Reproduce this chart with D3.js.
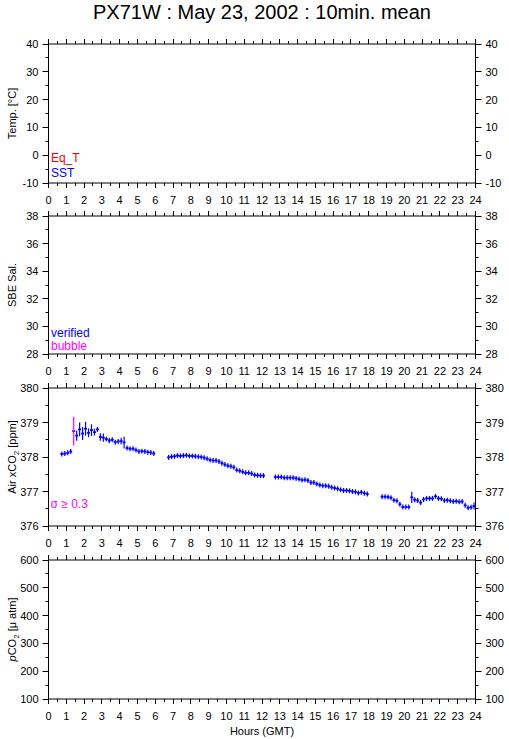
<!DOCTYPE html>
<html lang="en">
<head>
<meta charset="UTF-8">
<title>PX71W : May 23, 2002 : 10min. mean</title>
<style>
  body { margin: 0; background: #fff; }
  svg { display: block; }
  text { font-family: "Liberation Sans", Arial, Helvetica, sans-serif; }
</style>
</head>
<body>
<div id="chart"></div>
<script src="https://cdn.jsdelivr.net/npm/d3@7"></script>
<script>
// ---- data ----
const hourTicks = [0,1,2,3,4,5,6,7,8,9,10,11,12,13,14,15,16,17,18,19,20,21,22,23,24];
const tempTicks = [-10, 0, 10, 20, 30, 40];
const salTicks = [28, 30, 32, 34, 36, 38];
const airTicks = [376, 377, 378, 379, 380];
const pco2Ticks = [100, 200, 300, 400, 500, 600];

// Air xCO2, 10 minute means (start time of interval), ppm, and std dev
const airTime = [
  "00:40","00:50","01:00","01:10","01:20","01:30","01:40","01:50","02:00","02:10",
  "02:20","02:30","02:40","02:50","03:00","03:10","03:20","03:30","03:40","03:50",
  "04:00","04:10","04:20","04:30","04:40","04:50","05:00","05:10","05:20","05:30",
  "05:40","05:50",
  "06:40","06:50","07:00","07:10","07:20","07:30","07:40","07:50","08:00","08:10",
  "08:20","08:30","08:40","08:50","09:00","09:10","09:20","09:30","09:40","09:50",
  "10:00","10:10","10:20","10:30","10:40","10:50","11:00","11:10","11:20","11:30",
  "11:40","11:50","12:00",
  "12:40","12:50","13:00","13:10","13:20","13:30","13:40","13:50","14:00","14:10",
  "14:20","14:30","14:40","14:50","15:00","15:10","15:20","15:30","15:40","15:50",
  "16:00","16:10","16:20","16:30","16:40","16:50","17:00","17:10","17:20","17:30",
  "17:40","17:50",
  "18:40","18:50","19:00","19:10","19:20","19:30","19:40","19:50","20:00","20:10",
  "20:20","20:30","20:40","20:50","21:00","21:10","21:20","21:30","21:40","21:50",
  "22:00","22:10","22:20","22:30","22:40","22:50","23:00","23:10","23:20","23:30",
  "23:40","23:50"
];
const airMean = [
  378.09,378.10,378.12,378.16,378.75,378.62,378.80,378.68,378.82,378.70,
  378.78,378.72,378.80,378.58,378.56,378.52,378.48,378.50,378.43,378.45,
  378.46,378.42,378.26,378.24,378.24,378.20,378.16,378.17,378.16,378.14,
  378.13,378.10,
  377.99,378.01,378.02,378.04,378.03,378.04,378.05,378.03,378.03,378.02,
  378.01,378.00,377.98,377.95,377.91,377.90,377.90,377.87,377.82,377.78,
  377.75,377.73,377.70,377.62,377.60,377.57,377.54,377.54,377.52,377.48,
  377.47,377.46,377.46,
  377.42,377.42,377.42,377.40,377.40,377.40,377.40,377.38,377.36,377.33,
  377.34,377.32,377.26,377.26,377.22,377.19,377.17,377.17,377.15,377.12,
  377.10,377.08,377.05,377.03,377.03,377.02,377.00,376.99,376.96,376.98,
  376.95,376.93,
  376.85,376.85,376.84,376.82,376.75,376.73,376.63,376.55,376.55,376.55,
  376.83,376.76,376.74,376.68,376.77,376.80,376.80,376.80,376.86,376.80,
  376.79,376.74,376.75,376.73,376.71,376.72,376.70,376.71,376.60,376.53,
  376.54,376.58
];
const airSd = [
  0.02,0.02,0.03,0.03,0.42,0.15,0.20,0.19,0.20,0.13,
  0.17,0.10,0.07,0.11,0.12,0.06,0.08,0.05,0.06,0.07,
  0.10,0.17,0.03,0.02,0.03,0.02,0.02,0.02,0.03,0.02,
  0.02,0.02,
  0.02,0.02,0.02,0.03,0.02,0.02,0.03,0.02,0.02,0.02,
  0.02,0.02,0.02,0.02,0.02,0.02,0.02,0.02,0.04,0.03,
  0.03,0.03,0.04,0.04,0.03,0.02,0.02,0.03,0.02,0.03,
  0.02,0.02,0.02,
  0.02,0.03,0.02,0.02,0.02,0.02,0.02,0.02,0.03,0.02,
  0.03,0.02,0.03,0.03,0.02,0.02,0.02,0.02,0.02,0.02,
  0.03,0.02,0.02,0.02,0.02,0.02,0.02,0.02,0.03,0.03,
  0.03,0.02,
  0.02,0.02,0.02,0.02,0.03,0.03,0.04,0.02,0.02,0.02,
  0.16,0.05,0.04,0.02,0.03,0.04,0.04,0.03,0.02,0.02,
  0.02,0.02,0.03,0.02,0.03,0.02,0.02,0.02,0.03,0.02,
  0.02,0.10
];

// ---- layout ----
const W = 509, H = 739;
const left = 48.5, right = 475.5;
const svg = d3.select("#chart").append("svg").attr("width", W).attr("height", H);

const x = d3.scaleLinear().domain([0, 24]).range([left, right]);

svg.append("text")
  .attr("x", (left + right) / 2).attr("y", 18.5)
  .attr("text-anchor", "middle").attr("font-size", 20)
  .text("PX71W : May 23, 2002 : 10min. mean");

function panel(top, bottom, ticks, minorStep, label) {
  const y = d3.scaleLinear().domain([ticks[0], ticks[ticks.length - 1]]).range([bottom, top]);
  const g = svg.append("g");
  const minor = d3.range(ticks[0], ticks[ticks.length - 1] + 1e-9, minorStep);
  const xMinor = d3.range(0, 24.01, 0.5);

  // frame
  g.append("rect").attr("x", left).attr("y", top)
    .attr("width", right - left).attr("height", bottom - top)
    .attr("fill", "none").attr("stroke", "#000");

  // x ticks top/bottom (outward)
  xMinor.forEach(h => {
    const len = Number.isInteger(h) ? 5 : 3;
    const xx = Math.round(x(h) - 0.5) + 0.5;
    g.append("line").attr("x1", xx).attr("x2", xx).attr("y1", top).attr("y2", top - len).attr("stroke", "#000");
    g.append("line").attr("x1", xx).attr("x2", xx).attr("y1", bottom).attr("y2", bottom + len).attr("stroke", "#000");
  });
  g.selectAll(".xl").data(hourTicks).enter().append("text")
    .attr("x", d => x(d)).attr("y", bottom + 20.5)
    .attr("text-anchor", "middle").attr("font-size", 11)
    .text(d => d);

  // y ticks left/right (outward)
  minor.forEach(v => {
    const major = ticks.some(t => Math.abs(t - v) < 1e-9);
    const len = major ? 6 : 3;
    const yy = Math.round(y(v) - 0.5) + 0.5;
    g.append("line").attr("x1", left).attr("x2", left - len).attr("y1", yy).attr("y2", yy).attr("stroke", "#000");
    g.append("line").attr("x1", right).attr("x2", right + len).attr("y1", yy).attr("y2", yy).attr("stroke", "#000");
  });
  ticks.forEach(v => {
    g.append("text").attr("x", left - 10).attr("y", y(v) + 4)
      .attr("text-anchor", "end").attr("font-size", 11).text(v);
    g.append("text").attr("x", right + 10).attr("y", y(v) + 4)
      .attr("text-anchor", "start").attr("font-size", 11).text(v);
  });

  // y label
  const lab = g.append("text")
    .attr("transform", `translate(16,${(top + bottom) / 2}) rotate(-90)`)
    .attr("text-anchor", "middle").attr("font-size", 11);
  label(lab);
  return { g, y };
}

const p1 = panel(44, 183, tempTicks, 5, t => t.text("Temp. [°C]"));
const p2 = panel(216, 354, salTicks, 1, t => t.text("SBE Sal."));
const p3 = panel(388, 526, airTicks, 0.5, t => {
  t.append("tspan").text("Air xCO");
  t.append("tspan").attr("font-size", 8).attr("dy", 3).text("2");
  t.append("tspan").attr("dy", -3).text(" [ppm]");
});
const p4 = panel(560, 699, pco2Ticks, 50, t => {
  t.append("tspan").attr("font-style", "italic").text("p");
  t.append("tspan").text("CO");
  t.append("tspan").attr("font-size", 8).attr("dy", 3).text("2");
  t.append("tspan").attr("dy", -3).text(" [\u03bc atm]");
});

// legends
function legend(g, xx, yy, color, txt) {
  g.append("text").attr("x", xx).attr("y", yy).attr("font-size", 12).attr("fill", color).text(txt);
}
legend(p1.g, 51, 162, "#ff0000", "Eq_T");
legend(p1.g, 51, 176.5, "#0000ff", "SST");
legend(p2.g, 51, 336.5, "#0000ff", "verified");
legend(p2.g, 51, 349.5, "#ff00ff", "bubble");
legend(p3.g, 50.5, 507.5, "#ff00ff", "\u03c3 \u2265 0.3");

// air xCO2 marks
const parseT = s => { const [hh, mm] = s.split(":").map(Number); return hh + mm / 60; };
const air = airTime.map((t, i) => ({ t: parseT(t), m: airMean[i], s: airSd[i] }));
const y3 = p3.y;
const marks = p3.g.append("g");
marks.selectAll(".h").data(air).enter().append("line")
  .attr("x1", d => x(d.t)).attr("x2", d => x(d.t + 1 / 6))
  .attr("y1", d => y3(d.m)).attr("y2", d => y3(d.m))
  .attr("stroke", "#0000ff").attr("stroke-width", 1.8);
marks.selectAll(".v").data(air).enter().append("line")
  .attr("x1", d => x(d.t + 1 / 12)).attr("x2", d => x(d.t + 1 / 12))
  .attr("y1", d => Math.min(y3(d.m + d.s), y3(d.m) - 2.5))
  .attr("y2", d => Math.max(y3(d.m - d.s), y3(d.m) + 2.5))
  .attr("stroke", d => d.s >= 0.3 ? "#ff00ff" : "#0000ff").attr("stroke-width", 1.2);

// x axis title
svg.append("text").attr("x", (left + right) / 2).attr("y", 735)
  .attr("text-anchor", "middle").attr("font-size", 11).text("Hours (GMT)");
</script>
</body>
</html>
